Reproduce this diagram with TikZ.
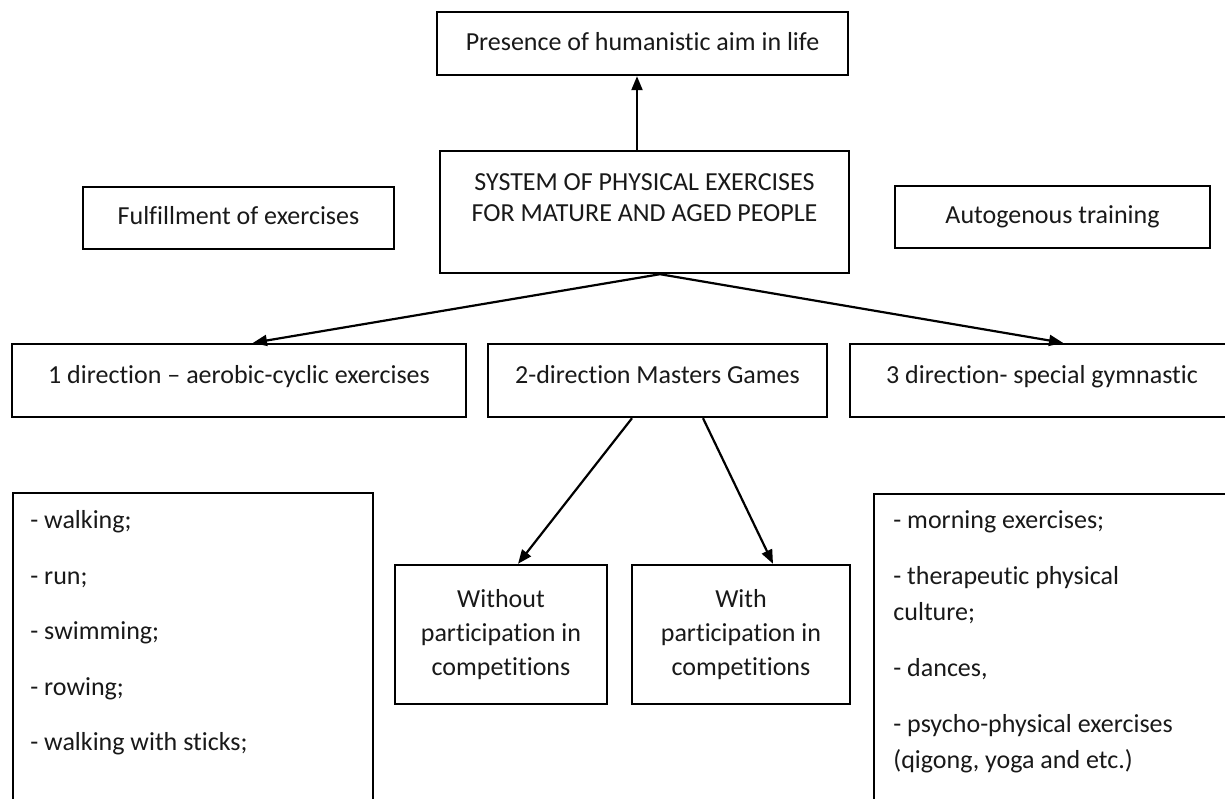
\documentclass[tikz,border=0pt]{standalone}
\usepackage{fontspec}
\setmainfont{Carlito}[Ligatures={NoCommon}]
\usetikzlibrary{arrows.meta}
\begin{document}
\begin{tikzpicture}[x=0.5pt,y=-0.5pt,
  font=\fontsize{13}{16}\selectfont,
  box/.style={draw=black, line width=1.2pt, rectangle, inner sep=0pt, text=black!90},
  one/.style={text height=9.5pt, text depth=3pt},
  dir/.style={text height=9.5pt, text depth=7pt},
  sz/.style 2 args={minimum width=#1*0.5pt, minimum height=#2*0.5pt},
  listtext/.style={anchor=north west, inner sep=0pt, align=left, text=black!90, font=\fontsize{13}{18}\selectfont},
  arr/.style={line width=1.1pt, -{Triangle[length=7pt,width=5.5pt]}}]
\useasboundingbox (0,0) rectangle (1225,798);
\clip (0,0) rectangle (1225,798);
\fill[white] (0,0) rectangle (1225,798);

\node[box, one, sz={411}{63}] (aim) at (642.5,43.5) {Presence of humanistic aim in life};
\node[box, sz={409}{122}] (sys) at (644.5,212) {};
\node[align=center, inner sep=0pt, text=black!90, font=\fontsize{13}{15.5}\selectfont] (systxt) at (644.5,197.5) {SYSTEM OF PHYSICAL EXERCISES\\FOR MATURE AND AGED PEOPLE};
\node[box, one, sz={311}{62}] (ful) at (238.5,218) {Fulfillment of exercises};
\node[box, one, sz={315}{62}] (aut) at (1052.5,217) {Autogenous training};

\node[box, dir, sz={454}{73}] (d1) at (239,380.5) {1 direction – aerobic-cyclic exercises};
\node[box, dir, sz={339}{73}] (d2) at (657.5,380.5) {2-direction Masters Games};
\node[box, dir, sz={384}{73}] (d3) at (1042,380.5) {3 direction- special gymnastic};

\node[box, sz={360}{360}, anchor=north west] (l1) at (12,492) {};
\node[listtext] (l1t) at (30,503) {\strut- walking;\\[9.75pt]- run;\\[9.75pt]- swimming;\\[9.75pt]- rowing;\\[9.75pt]- walking with sticks;};

\node[box, sz={212}{139}, align=center, font=\fontsize{13}{17}\selectfont] (wo) at (501,634.5) {Without\\participation in\\competitions};
\node[box, sz={218}{139}, align=center, font=\fontsize{13}{17}\selectfont] (wi) at (741,634.5) {With\\participation in\\competitions};

\node[box, sz={372}{360}, anchor=north west] (l2) at (873,493) {};
\node[listtext] (l2t) at (893,503) {\strut- morning exercises;\\[10pt]- therapeutic physical\\culture;\\[10pt]- dances,\\[10pt]- psycho-physical exercises\\(qigong, yoga and etc.)};

\draw[arr] ([xshift=-3.75pt]sys.north) -- ([xshift=-3.75pt]sys.north |- aim.south);
\draw[arr] ([xshift=7.75pt]sys.south) -- ([xshift=7pt]d1.north);
\draw[arr] ([xshift=7.75pt]sys.south) -- ([xshift=10.5pt]d3.north);
\draw[arr] ([xshift=-12.75pt]d2.south) -- ([xshift=8.5pt]wo.north);
\draw[arr] ([xshift=22.75pt]d2.south) -- ([xshift=16pt]wi.north);
\end{tikzpicture}
\end{document}
